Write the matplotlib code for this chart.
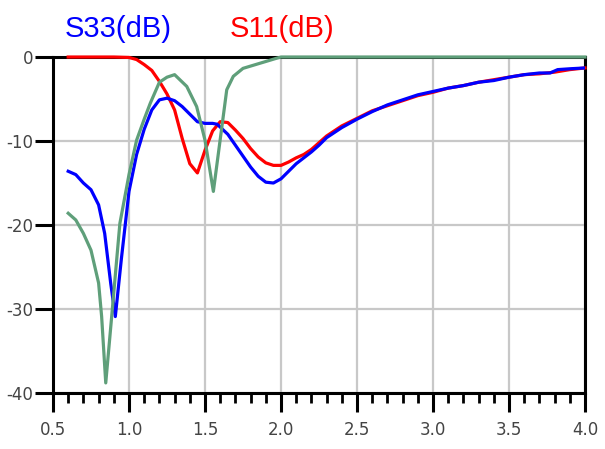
import numpy as np
import matplotlib
matplotlib.use('Agg')
import matplotlib.pyplot as plt
from matplotlib.ticker import MultipleLocator

# S33 (blue)
f33 = [0.6, 0.65, 0.7, 0.75, 0.8, 0.84, 0.88, 0.91, 0.95, 1.0, 1.05, 1.1, 1.15, 1.2, 1.25,
       1.3, 1.35, 1.4, 1.45, 1.5, 1.55, 1.58, 1.65, 1.7, 1.75, 1.8, 1.85, 1.9, 1.95, 2.0,
       2.05, 2.1, 2.15, 2.2, 2.25, 2.3, 2.4, 2.5, 2.6, 2.7, 2.8, 2.9, 3.0, 3.1, 3.2, 3.3,
       3.4, 3.5, 3.6, 3.7, 3.77, 3.82, 3.9, 4.0]
s33 = [-13.6, -14.0, -15.0, -15.8, -17.6, -21.0, -27.0, -30.9, -24.0, -16.0, -11.6, -8.6, -6.3, -5.1, -4.9,
       -5.2, -5.9, -6.8, -7.7, -7.9, -7.9, -8.0, -9.2, -10.5, -11.8, -13.1, -14.2, -14.9, -15.0, -14.5,
       -13.6, -12.7, -12.0, -11.3, -10.5, -9.6, -8.4, -7.4, -6.5, -5.7, -5.1, -4.5, -4.1, -3.7, -3.4, -3.0,
       -2.8, -2.4, -2.1, -1.9, -1.9, -1.5, -1.4, -1.3]

# S11 (red)
f11 = [0.6, 0.7, 0.8, 0.9, 1.0, 1.05, 1.1, 1.15, 1.2, 1.25, 1.3, 1.35, 1.4, 1.45, 1.5,
       1.55, 1.6, 1.65, 1.7, 1.75, 1.8, 1.85, 1.9, 1.95, 2.0, 2.05, 2.1, 2.15, 2.2, 2.25,
       2.3, 2.4, 2.5, 2.6, 2.7, 2.8, 2.9, 3.0, 3.1, 3.2, 3.3, 3.4, 3.5, 3.6, 3.7, 3.8, 3.9, 4.0]
s11 = [0.0, 0.0, 0.0, 0.0, -0.05, -0.3, -0.9, -1.6, -2.9, -4.4, -6.3, -9.7, -12.7, -13.8, -11.1,
       -8.8, -7.7, -7.8, -8.7, -9.7, -10.9, -11.9, -12.6, -12.9, -12.9, -12.5, -12.0, -11.6, -11.0, -10.2,
       -9.4, -8.2, -7.3, -6.4, -5.8, -5.2, -4.6, -4.2, -3.7, -3.4, -3.0, -2.7, -2.4, -2.1, -2.0, -1.8, -1.5, -1.3]

# third trace (green)
fg = [0.6, 0.65, 0.7, 0.75, 0.8, 0.82, 0.847, 0.886, 0.94, 1.0, 1.05, 1.1, 1.14, 1.2, 1.25,
      1.3, 1.38, 1.445, 1.5, 1.555, 1.643, 1.686, 1.75, 1.86, 1.97, 2.0, 4.0]
sg = [-18.6, -19.4, -21.0, -23.0, -26.9, -30.9, -38.8, -30.9, -19.8, -14.0, -9.9, -7.4, -5.5, -3.0, -2.4,
      -2.1, -3.5, -5.9, -9.9, -16.0, -3.9, -2.3, -1.35, -0.75, -0.15, 0.0, 0.0]

xticks = [0.5, 1.0, 1.5, 2.0, 2.5, 3.0, 3.5, 4.0]
xlabels = ['0.5', '1.0', '1.5', '2.0', '2.5', '3.0', '3.5', '4.0']
yticks = [0, -10, -20, -30, -40]

fig = plt.figure(figsize=(6.05, 4.49), dpi=100)
ax = fig.add_axes([0.0876, 0.1247, 0.8794, 0.7483])

ax.plot(f33, s33, color='#0000ff', lw=2.3, zorder=4)
ax.plot(f11, s11, color='#ff0000', lw=2.3, zorder=3, clip_on=False)
ax.plot(fg, sg, color='#5f9f7a', lw=2.3, zorder=5, clip_on=False)

ax.set_xlim(0.5, 4.0)
ax.set_ylim(-40, 0)
ax.set_xticks(xticks)
ax.set_xticklabels(xlabels)
ax.set_yticks(yticks)
ax.set_yticklabels([str(v) for v in yticks])
ax.xaxis.set_minor_locator(MultipleLocator(0.1))

ax.grid(True, which='major', color='#c8c8c8', lw=1.6)
ax.set_axisbelow(True)
for s in ax.spines.values():
    s.set_linewidth(2.2)
    s.set_color('black')

ax.tick_params(axis='x', which='major', length=14, width=2.2, direction='out',
               pad=6, labelsize=12, labelcolor='#444444')
ax.tick_params(axis='x', which='minor', length=7, width=2.0, direction='out')
ax.tick_params(axis='y', which='major', length=13, width=2.2, direction='out',
               pad=1, labelsize=12, labelcolor='#444444')

fig.text(0.107, 0.935, 'S33(dB)', color='#0000ff', fontsize=21,
         family='Liberation Sans', va='center', ha='left')
fig.text(0.38, 0.935, 'S11(dB)', color='#ff0000', fontsize=21,
         family='Liberation Sans', va='center', ha='left')

plt.savefig('out.png', dpi=100)
